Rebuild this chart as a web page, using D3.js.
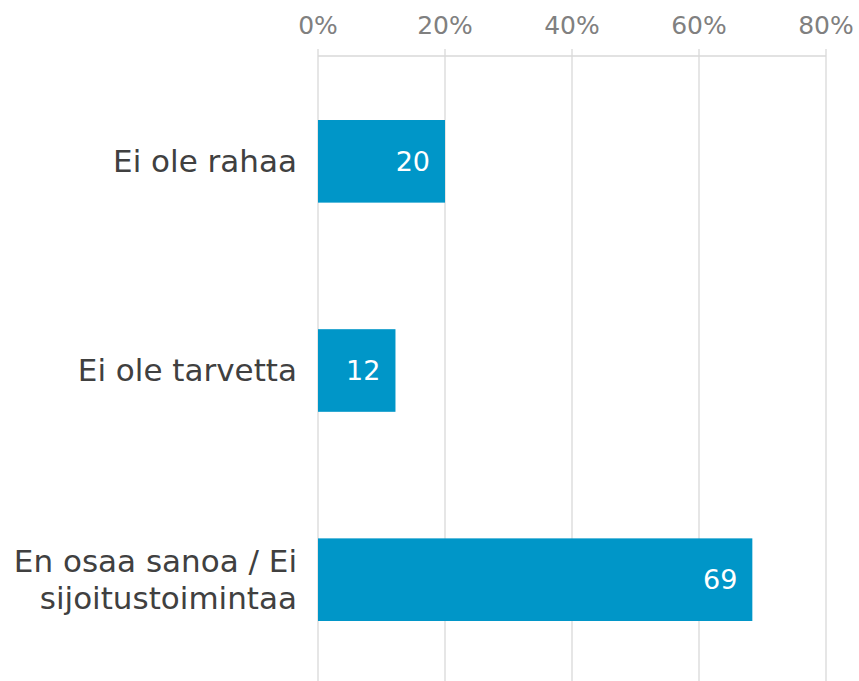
<!DOCTYPE html>
<html>
<head>
    <meta charset="utf-8">
    <title>Syyt</title>
    <script src="https://cdn.jsdelivr.net/npm/d3@7"></script>
    <style>
        body { margin: 0; background: white; }
        text { font-family: "DejaVu Sans", Verdana, sans-serif; }
    </style>
</head>
<body>
    <div id="chart"></div>
    <script>
        // Data
        const categories = [["Ei ole rahaa"], ["Ei ole tarvetta"], ["En osaa sanoa / Ei", "sijoitustoimintaa"]];
        const values = [0.20, 0.122, 0.684];
        const valueLabels = ["20", "12", "69"];
        const tickValues = [0, 0.2, 0.4, 0.6, 0.8];

        const width = 859, height = 681;
        const svg = d3.select("#chart").append("svg")
            .attr("width", width)
            .attr("height", height);

        const x = d3.scaleLinear().domain([0, 0.8]).range([318, 826]);
        const y = d3.scaleBand()
            .domain(d3.range(categories.length))
            .range([56, 685])
            .paddingInner(0.605)
            .paddingOuter(0.306);

        // Gridlines
        svg.append("g")
            .selectAll("line")
            .data(tickValues)
            .join("line")
            .attr("x1", d => x(d)).attr("x2", d => x(d))
            .attr("y1", 49).attr("y2", height)
            .attr("stroke", "#d9d9d9")
            .attr("stroke-width", 1.3);

        // Axis line at top
        svg.append("line")
            .attr("x1", x(0)).attr("x2", x(0.8))
            .attr("y1", 56).attr("y2", 56)
            .attr("stroke", "#d9d9d9")
            .attr("stroke-width", 1.3);

        // Tick labels
        svg.append("g")
            .selectAll("text")
            .data(tickValues)
            .join("text")
            .attr("x", d => x(d))
            .attr("y", 34)
            .attr("text-anchor", "middle")
            .attr("fill", "#808080")
            .style("font-size", "25px")
            .text(d => Math.round(d * 100) + "%");

        // Bars
        svg.append("g")
            .selectAll("rect")
            .data(values)
            .join("rect")
            .attr("x", x(0))
            .attr("y", (d, i) => y(i))
            .attr("width", d => x(d) - x(0))
            .attr("height", y.bandwidth())
            .attr("fill", "#0096c8");

        // Value labels
        svg.append("g")
            .selectAll("text")
            .data(values)
            .join("text")
            .attr("x", d => x(d) - 15)
            .attr("y", (d, i) => y(i) + y.bandwidth() / 2)
            .attr("dy", "0.35em")
            .attr("text-anchor", "end")
            .attr("fill", "white")
            .style("font-size", "27px")
            .text((d, i) => valueLabels[i]);

        // Category labels
        const cats = svg.append("g")
            .selectAll("text")
            .data(categories)
            .join("text")
            .attr("text-anchor", "end")
            .attr("fill", "#404040")
            .style("font-size", "31px");

        cats.each(function(lines, i) {
            const cy = y(i) + y.bandwidth() / 2;
            const lh = 37;
            const top = cy - (lines.length - 1) * lh / 2;
            d3.select(this).selectAll("tspan")
                .data(lines)
                .join("tspan")
                .attr("x", 297)
                .attr("y", (d, j) => top + j * lh)
                .attr("dy", "0.35em")
                .text(d => d);
        });
    </script>
</body>
</html>
